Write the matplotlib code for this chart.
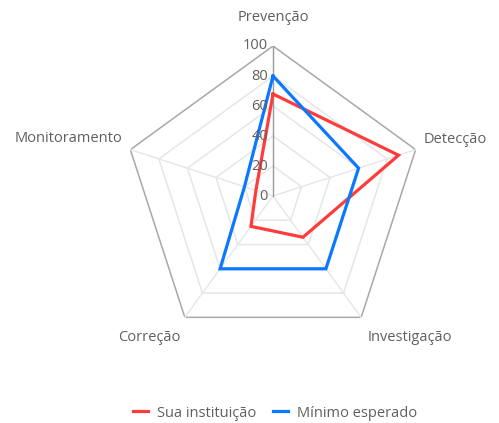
import numpy as np
import matplotlib
matplotlib.use("Agg")
import matplotlib.pyplot as plt

categories = ["Prevenção", "Detecção", "Investigação", "Correção", "Monitoramento"]
sua_instituicao = [68, 88, 34, 25, 12]
minimo_esperado = [80, 60, 60, 60, 20]
tick_values = [0, 20, 40, 60, 80, 100]
series_names = ["Sua instituição", "Mínimo esperado"]

plt.rcParams['font.family'] = ['Open Sans', 'DejaVu Sans']

W, H = 499, 423
fig = plt.figure(figsize=(W/100, H/100), dpi=100)
cx, cy, R = 273, 423-196, 150
ax = fig.add_axes([(cx-R)/W, (cy-R)/H, 2*R/W, 2*R/H], projection='polar')
ax.set_theta_offset(np.pi/2)
ax.set_theta_direction(-1)
ax.set_ylim(0, 100)
ax.grid(False)
ax.spines['polar'].set_visible(False)
ax.set_xticks([])
ax.set_yticks([])
ax.patch.set_alpha(0)

n = len(categories)
angles = np.linspace(0, 2*np.pi, n, endpoint=False)
closed = np.concatenate([angles, angles[:1]])

# grid pentagons
for v in tick_values[1:]:
    col = '#a8a8a8' if v == 100 else '#e6e6e6'
    ax.plot(closed, [v]*(n+1), color=col, lw=1.1, zorder=1)
# spokes
for i, a in enumerate(angles):
    col = '#9a9a9a' if i == 0 else '#e6e6e6'
    ax.plot([a, a], [0, 100], color=col, lw=1.0, zorder=1 if i else 1.5)

colors = ['#ff3c3c', '#0a78ff']
for vals, c, name in zip([sua_instituicao, minimo_esperado], colors, series_names):
    ax.plot(closed, list(vals) + [vals[0]], color=c, lw=2.3, label=name, zorder=3,
            solid_joinstyle='miter')

# tick labels
for v in tick_values:
    ax.annotate(str(v), xy=(0, v), xytext=(-5, 0), textcoords='offset pixels',
                ha='right', va='center', fontsize=10.5, color='#606060', zorder=4)

# category labels
offsets = [(0, 28, 'center'), (8, 10, 'left'), (6, -20, 'left'), (-4, -20, 'right'), (-8, 11, 'right')]
for a, lab, (dx, dy, ha) in zip(angles, categories, offsets):
    ax.annotate(lab, xy=(a, 100), xytext=(dx, dy), textcoords='offset pixels',
                ha=ha, va='center', fontsize=10.5, color='#606060', annotation_clip=False)

handles, labels = ax.get_legend_handles_labels()
leg = fig.legend(handles, labels, loc='center', bbox_to_anchor=(275/W, 1-413/H), ncol=2,
                 frameon=False, handlelength=1.0, handletextpad=0.6, columnspacing=1.2,
                 fontsize=10.5, labelcolor='#606060')

fig.savefig("out.png", dpi=100)
